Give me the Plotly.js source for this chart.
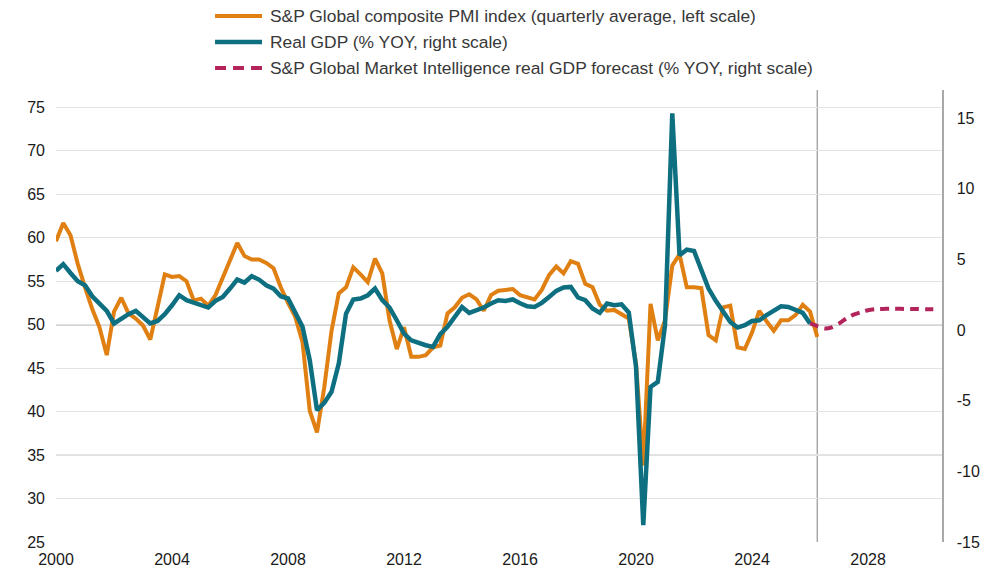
<!DOCTYPE html>
<html>
<head>
<meta charset="utf-8">
<script src="https://cdn.plot.ly/plotly-3.0.1.min.js"></script>
<style>
  html, body { margin: 0; padding: 0; background: #ffffff; }
  #chart { width: 993px; height: 571px; }
</style>
</head>
<body>
<div id="chart"></div>
<script>
// Quarterly series, first quarter = 2000 Q1
const startYear = 2000;

// S&P Global composite PMI index (quarterly average), 2000 Q1 – 2026 Q2
const pmi = [
  59.6, 61.7, 60.3, 57.0, 54.3, 51.8, 49.7, 46.5,
  51.5, 53.1, 51.3, 50.7, 49.9, 48.3, 52.0, 55.8,
  55.5, 55.6, 55.0, 52.8, 53.0, 52.2, 53.4, 55.5,
  57.4, 59.4, 57.9, 57.5, 57.5, 57.1, 56.5, 54.3,
  52.5, 50.9, 48.0, 40.1, 37.6, 42.8, 49.3, 53.6,
  54.3, 56.6, 55.8, 54.9, 57.6, 55.9, 50.5, 47.2,
  49.7, 46.3, 46.3, 46.5, 47.4, 47.6, 51.3, 52.0,
  53.1, 53.5, 52.9, 51.6, 53.4, 53.9, 54.0, 54.1,
  53.4, 53.1, 52.9, 54.0, 55.7, 56.7, 55.9, 57.3,
  57.0, 54.7, 54.3, 52.3, 51.6, 51.7, 51.2, 50.7,
  45.5, 33.8, 52.4, 48.2, 50.5, 56.8, 58.1, 54.3,
  54.3, 54.2, 48.8, 48.2, 52.0, 52.2, 47.4, 47.2,
  49.1, 51.6, 50.4, 49.3, 50.5, 50.5, 51.1, 52.3,
  51.5, 48.6
];

// Real GDP (% YOY), 2000 Q1 – 2026 Q1
const gdp = [
  4.19, 4.67, 4.05, 3.46, 3.18, 2.40, 1.88, 1.36,
  0.47, 0.82, 1.13, 1.36, 0.93, 0.47, 0.65, 1.13,
  1.76, 2.47, 2.12, 1.93, 1.71, 1.60, 2.07, 2.35,
  2.94, 3.58, 3.37, 3.82, 3.58, 3.18, 2.94, 2.40,
  2.24, 1.17, 0.23, -2.13, -5.67, -5.15, -4.37, -2.37,
  1.17, 2.17, 2.24, 2.47, 2.94, 2.12, 1.60, 0.70,
  -0.24, -0.72, -0.91, -1.07, -1.19, -0.29, 0.23, 0.93,
  1.64, 1.22, 1.41, 1.60, 1.88, 2.12, 2.07, 2.17,
  1.90, 1.69, 1.64, 1.93, 2.35, 2.78, 3.02, 3.06,
  2.31, 2.12, 1.53, 1.22, 1.88, 1.76, 1.83, 1.25,
  -2.60, -13.80, -4.02, -3.67, 0.35, 15.35, 5.30, 5.70,
  5.60, 4.24, 2.94, 2.07, 1.29, 0.58, 0.18, 0.35,
  0.65, 0.70, 1.06, 1.41, 1.69, 1.64, 1.46, 1.22,
  0.47
];

// S&P Global Market Intelligence real GDP forecast (% YOY), 2026 Q1 – 2030 Q2
const forecastStart = 2026;
const gdpForecast = [
  0.47, 0.28, 0.12, 0.20, 0.47, 0.82, 1.10, 1.27,
  1.41, 1.48, 1.50, 1.52, 1.52, 1.50, 1.50, 1.49,
  1.48, 1.48
];

// Axis ticks
const xTicks = [2000, 2004, 2008, 2012, 2016, 2020, 2024, 2028];
const leftTicks = [25, 30, 35, 40, 45, 50, 55, 60, 65, 70, 75];
const rightTicks = [-15, -10, -5, 0, 5, 10, 15];
const lastActual = 2026.25;

const quarters = (from, n) => Array.from({length: n}, (_, i) => from + i / 4);

const FONT = 'Liberation Sans, Arial, sans-serif';
const TEXT = '#1a1a1a';

const series = [
  {
    x: quarters(startYear, pmi.length), y: pmi,
    name: 'S&P Global composite PMI index (quarterly average, left scale)',
    line: {color: '#E07F12', width: 4},
    yaxis: 'y'
  },
  {
    x: quarters(startYear, gdp.length), y: gdp,
    name: 'Real GDP (% YOY, right scale)',
    line: {color: '#0D6F80', width: 4.5},
    yaxis: 'y2'
  },
  {
    x: quarters(forecastStart, gdpForecast.length), y: gdpForecast,
    name: 'S&P Global Market Intelligence real GDP forecast (% YOY, right scale)',
    line: {color: '#B3245B', width: 4, dash: '9px,6px', shape: 'spline', smoothing: 0.6},
    yaxis: 'y2'
  }
];

const traces = series.map(s => Object.assign({type: 'scatter', mode: 'lines', hoverinfo: 'x+y'}, s));

// Key above the plot: a wide line sample and the series name per row
const keyRowsY = [1.1637, 1.1062, 1.0487];
const keyX0 = 0.1795, keyX1 = 0.2325, keyTextX = 0.2393;
const keyShapes = series.map((s, i) => ({
  type: 'line', xref: 'paper', yref: 'paper',
  x0: keyX0, x1: keyX1, y0: keyRowsY[i], y1: keyRowsY[i],
  line: {color: s.line.color, width: s.line.width, dash: s.line.dash ? '11px,7px' : 'solid'}
}));
const keyLabels = series.map((s, i) => ({
  xref: 'paper', yref: 'paper', x: keyTextX, y: keyRowsY[i],
  xanchor: 'left', yanchor: 'middle', showarrow: false,
  text: s.name,
  font: {family: FONT, size: 17.4, color: '#383838'}
}));

const layout = {
  width: 993, height: 571,
  margin: {l: 56, r: 51, t: 90, b: 29, pad: 0},
  paper_bgcolor: '#ffffff', plot_bgcolor: '#ffffff',
  font: {family: FONT, size: 16, color: TEXT},
  showlegend: false,
  xaxis: {
    range: [2000, 2030.55],
    tickmode: 'array', tickvals: xTicks, ticktext: xTicks.map(String),
    showgrid: false, zeroline: false, showline: false, ticks: '',
    ticklabelstandoff: 6,
    tickfont: {family: FONT, size: 16, color: TEXT}
  },
  yaxis: {
    range: [25, 77],
    tickmode: 'array', tickvals: leftTicks, ticktext: leftTicks.map(String),
    showgrid: true, gridcolor: '#e2e2e2', gridwidth: 1.2,
    zeroline: false, showline: false, ticks: '',
    ticklabelstandoff: 10,
    tickfont: {family: FONT, size: 16, color: TEXT}
  },
  yaxis2: {
    range: [-15, 17], overlaying: 'y', side: 'right',
    tickmode: 'array', tickvals: rightTicks, ticktext: rightTicks.map(String),
    showgrid: false, zeroline: false,
    showline: true, linecolor: '#a8a8a8', linewidth: 1.5, ticks: '',
    ticklabelstandoff: 10,
    tickfont: {family: FONT, size: 16, color: TEXT}
  },
  shapes: [
    // 50 line on the PMI scale (expansion / contraction)
    {type: 'line', xref: 'paper', yref: 'y', x0: 0, x1: 1, y0: 50, y1: 50,
     line: {color: '#a8a8a8', width: 1.5}, layer: 'below'},
    // boundary between actual data and forecast
    {type: 'line', xref: 'x', yref: 'paper', x0: lastActual, x1: lastActual, y0: 0, y1: 1,
     line: {color: '#a8a8a8', width: 1.5}, layer: 'below'}
  ].concat(keyShapes),
  annotations: keyLabels
};

Plotly.newPlot('chart', traces, layout, {displayModeBar: false, staticPlot: true});
</script>
</body>
</html>
